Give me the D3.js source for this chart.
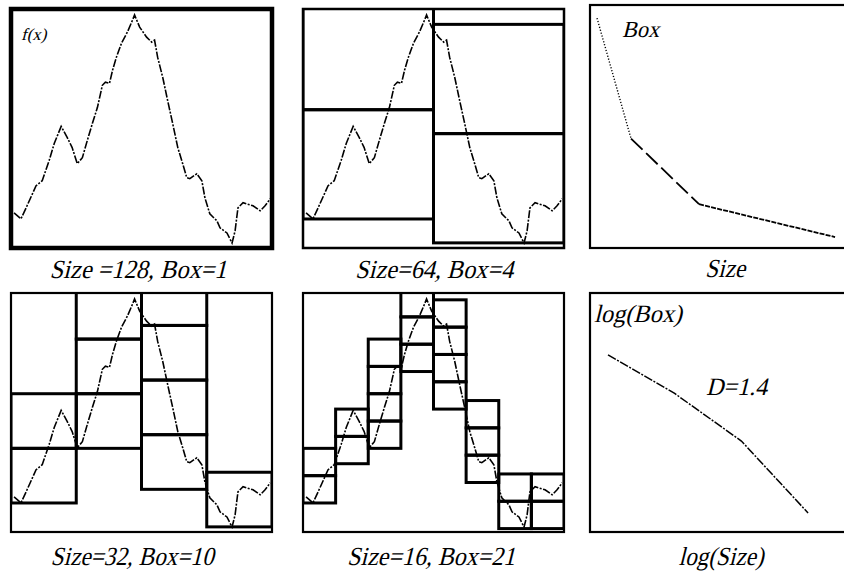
<!DOCTYPE html>
<html>
<head>
<meta charset="utf-8">
<script src="https://cdn.jsdelivr.net/npm/d3@7"></script>
<style>
  body { margin: 0; background: #fff; }
  svg { display: block; }
</style>
</head>
<body>
<svg id="fig" width="844" height="573"></svg>
<script>
// Profile f(x), sampled along x = 0..128
const profileX = [1.5, 4.9, 7.4, 12.3, 15.3, 18.7, 21.2, 24.6, 27.6, 30.0, 32.5, 35.0, 37.4, 39.9,
  42.4, 44.8, 46.3, 48.3, 49.8, 51.7, 54.2, 57.1, 59.6, 60.6, 63.1, 66.5, 69.0, 70.4, 71.9, 74.4,
  76.8, 79.3, 81.8, 84.2, 86.2, 87.7, 91.1, 93.6, 95.1, 97.5, 101.0, 102.5, 105.9, 108.4, 109.9,
  111.3, 113.8, 118.7, 122.2, 124.6, 127.1];
const profileY = [20.6, 17.1, 23.5, 36.5, 39.4, 51.2, 61.2, 71.2, 64.7, 58.8, 49.4, 52.9, 62.9, 72.9,
  82.4, 95.3, 97.1, 96.5, 104.1, 111.8, 120.0, 126.5, 133.5, 136.5, 129.4, 123.5, 120.6, 121.8, 111.8, 100.0,
  86.5, 72.9, 58.8, 49.4, 41.2, 40.6, 43.5, 39.4, 29.4, 20.0, 15.9, 11.8, 8.8, 2.9, 10.0,
  23.5, 26.5, 24.7, 21.8, 24.7, 28.8];

// Box sizes and the number of boxes counted at each size
const sizes = [128, 64, 32, 16];
const boxCounts = [1, 4, 10, 21];

// Box stacks per column: lowest box edge (in f units) and number of stacked boxes
const stackBottoms64 = [17, 3];
const stackCounts64 = [2, 2];
const stackBottoms32 = [17, 49, 25, 3];
const stackCounts32 = [2, 3, 4, 1];
const stackBottoms16 = [17, 40, 49, 94, 72, 29, 2, 2];
const stackCounts16 = [2, 2, 4, 3, 4, 3, 2, 2];

const captions = ["Size =128, Box=1", "Size=64, Box=4", "Size", "Size=32, Box=10", "Size=16, Box=21", "log(Size)"];
const fitLabel = "D=1.4";

// ---------------------------------------------------------------------------
const FONT = "'Liberation Serif', 'Times New Roman', serif";
const svg = d3.select("#fig");
const W = 261, H = 239;
const slots = [
  { x: 11, y: 9 }, { x: 303, y: 9 }, { x: 590, y: 5 },
  { x: 11, y: 293 }, { x: 303, y: 293 }, { x: 590, y: 293 }
];

// Slanted serif lettering: upright face sheared into an italic
function label(sel, x, y, size, txt) {
  return sel.append("g")
    .attr("transform", `translate(${x},${y}) skewX(-14)`)
    .append("text")
    .attr("font-family", FONT)
    .attr("font-size", size)
    .attr("fill", "#000")
    .text(txt);
}

const fx = d3.scaleLinear().domain([0, 128]).range([0, W]);
const fy = d3.scaleLinear().domain([0, 140]).range([H, 0]);
const profile = profileX.map((x, i) => [x, profileY[i]]);
const profileLine = d3.line().x(d => fx(d[0])).y(d => fy(d[1]));

function panel(i) {
  const g = svg.append("g").attr("transform", `translate(${slots[i].x},${slots[i].y})`);
  const id = "clip" + i;
  svg.append("clipPath").attr("id", id).append("rect").attr("width", W).attr("height", H);
  return { g, clip: `url(#${id})` };
}

function profilePanel(i, size, bottoms, counts, frameWidth) {
  const { g, clip } = panel(i);
  const inner = g.append("g").attr("clip-path", clip);
  inner.append("path")
    .attr("d", profileLine(profile))
    .attr("fill", "none")
    .attr("stroke", "#000")
    .attr("stroke-width", 1.6)
    .attr("stroke-dasharray", "8 1.5 2 1.5");
  const boxes = [];
  bottoms.forEach((b, c) => {
    for (let k = 0; k < counts[c]; k++) boxes.push({ c, lo: b + k * size, hi: b + (k + 1) * size });
  });
  inner.selectAll("rect.box").data(boxes).join("rect")
    .attr("class", "box")
    .attr("x", d => fx(d.c * size))
    .attr("width", fx(size) - fx(0))
    .attr("y", d => fy(d.hi))
    .attr("height", d => fy(d.lo) - fy(d.hi))
    .attr("fill", "none")
    .attr("stroke", "#000")
    .attr("stroke-width", 3);
  g.append("rect").attr("width", W).attr("height", H)
    .attr("fill", "none").attr("stroke", "#000").attr("stroke-width", frameWidth);
  return g;
}

// f(x) panels
const p1 = profilePanel(0, 128, [], [], 4.5);
label(p1, 10, 31, 17, "f(x)");
profilePanel(1, 64, stackBottoms64, stackCounts64, 2.5);
profilePanel(3, 32, stackBottoms32, stackCounts32, 2.2);
profilePanel(4, 16, stackBottoms16, stackCounts16, 2.2);

// Box vs Size
{
  const { g, clip } = panel(2);
  const x = d3.scaleLinear().domain([12.7, 135.5]).range([0, W]);
  const y = d3.scaleLinear().domain([0, 22.2]).range([H + 4, 0]);
  const pts = sizes.map((s, i) => [s, boxCounts[i]]).sort((a, b) => a[0] - b[0]);
  const dashes = ["1.2 1.8", "16 5", "5 1.2"];
  const inner = g.append("g").attr("clip-path", clip);
  d3.pairs(pts).forEach((seg, i) => {
    inner.append("path")
      .attr("d", d3.line().x(d => x(d[0])).y(d => y(d[1]))(seg))
      .attr("fill", "none").attr("stroke", "#000")
      .attr("stroke-width", i === 0 ? 1.4 : 1.8)
      .attr("stroke-dasharray", dashes[i]);
  });
  g.append("rect").attr("width", W).attr("height", H + 4)
    .attr("fill", "none").attr("stroke", "#000").attr("stroke-width", 2.2);
  label(g, 32, 32, 23, "Box").attr("textLength", 37).attr("lengthAdjust", "spacingAndGlyphs");
}

// log(Box) vs log(Size)
{
  const { g, clip } = panel(5);
  const x = d3.scaleLog().domain([13.27, 200]).range([0, W]);
  const y = d3.scaleLog().domain([0.693, 69.3]).range([H, 0]);
  const pts = sizes.map((s, i) => [s, boxCounts[i]]).sort((a, b) => a[0] - b[0]);
  g.append("g").attr("clip-path", clip).append("path")
    .attr("d", d3.line().x(d => x(d[0])).y(d => y(d[1]))(pts))
    .attr("fill", "none").attr("stroke", "#000")
    .attr("stroke-width", 1.5)
    .attr("stroke-dasharray", "9 1.5 2 1.5");
  g.append("rect").attr("width", W).attr("height", H)
    .attr("fill", "none").attr("stroke", "#000").attr("stroke-width", 2.2);
  label(g, 4, 29, 25, "log(Box)").attr("textLength", 88).attr("lengthAdjust", "spacingAndGlyphs");
  label(g, 116, 102, 25, fitLabel).attr("textLength", 61).attr("lengthAdjust", "spacingAndGlyphs");
}

// Captions under each panel
const capX = [138, 434, 725, 132, 431, 721];
const capY = [278, 278, 277, 565, 565, 565];
const capLen = [177, 158, 40, 163, 168, 85];
captions.forEach((t, i) => {
  label(svg, capX[i], capY[i], 26, t)
    .attr("text-anchor", "middle")
    .attr("textLength", capLen[i])
    .attr("lengthAdjust", "spacingAndGlyphs");
});
</script>
</body>
</html>
